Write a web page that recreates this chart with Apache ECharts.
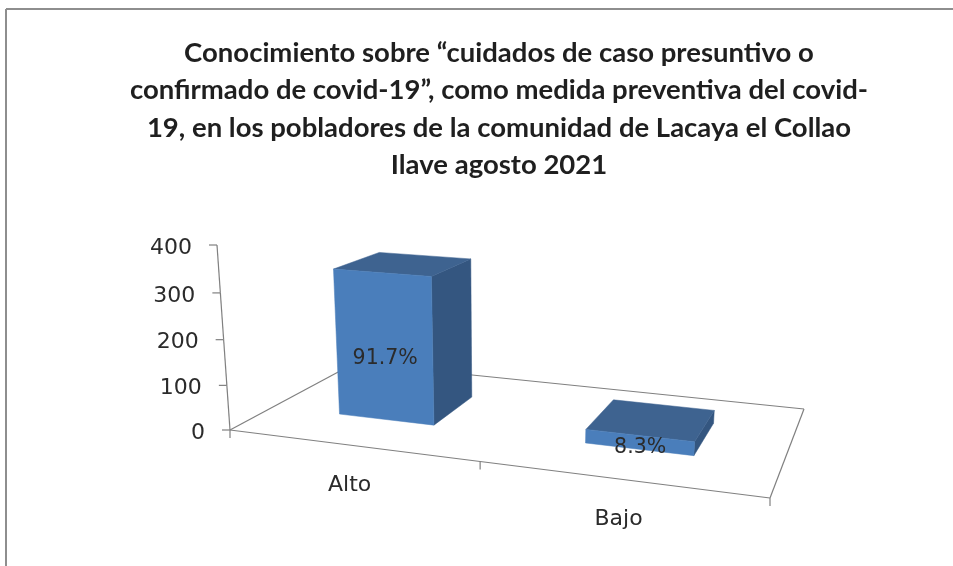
<!DOCTYPE html>
<html>
<head>
<meta charset="utf-8">
<style>html,body{margin:0;padding:0;background:#fff}#c{width:953px;height:566px}</style>
<script src="https://cdn.jsdelivr.net/npm/echarts@6/dist/echarts.min.js"></script>
</head>
<body>
<div id="c"></div>
<script>
var titleLines = [
  'Conocimiento sobre “cuidados de caso presuntivo o',
  'confirmado de covid-19”, como medida preventiva del covid-',
  '19, en los pobladores de la comunidad de Lacaya el Collao',
  'Ilave agosto 2021'
];
var categories = ['Alto', 'Bajo'];
var values = [330, 30];
var valueLabels = ['91.7%', '8.3%'];
var yTicks = [0, 100, 200, 300, 400];

// Oblique view of the plot box: floor corners (front-left, front-right, back-right,
// back-left), vanishing point of the verticals and the strength of the height term.
var Q = [[230, 430], [770, 498], [804, 409], [355, 363]];
var VP = [500, 4270];
var K = -0.04596;
var BAR_BAND = 0.4, BAR_SHIFT = -0.005, W_FRONT = 0.31, W_BACK = 0.695;

var H = (function () {
  var x0 = Q[0][0], y0 = Q[0][1], x1 = Q[1][0], y1 = Q[1][1], x2 = Q[2][0], y2 = Q[2][1], x3 = Q[3][0], y3 = Q[3][1];
  var dx1 = x1 - x2, dx2 = x3 - x2, sx = x0 - x1 + x2 - x3;
  var dy1 = y1 - y2, dy2 = y3 - y2, sy = y0 - y1 + y2 - y3;
  var den = dx1 * dy2 - dx2 * dy1;
  var g = (sx * dy2 - dx2 * sy) / den, h = (dx1 * sy - sx * dy1) / den;
  return { a: x1 - x0 + g * x1, b: x3 - x0 + h * x3, c: x0, d: y1 - y0 + g * y1, e: y3 - y0 + h * y3, f: y0, g: g, h: h };
})();
function proj(u, w, t) {
  var q = t * K, den = H.g * u + H.h * w + 1 + q;
  return [(H.a * u + H.b * w + H.c + q * VP[0]) / den, (H.d * u + H.e * w + H.f + q * VP[1]) / den];
}
// grid-relative fractions from the library's own scales
function frac(params, api, cat, val) {
  var cs = params.coordSys, p = api.coord([cat, val]);
  return [(p[0] - cs.x) / cs.width, (cs.y + cs.height - p[1]) / cs.height];
}
var AXIS = '#808080', TXT = '#2b2b2b', FONT = '"DejaVu Sans", sans-serif';
function seg(a, b, w) {
  return { type: 'line', shape: { x1: a[0], y1: a[1], x2: b[0], y2: b[1] }, style: { stroke: AXIS, lineWidth: w || 1.2, fill: null }, silent: true };
}
function poly(pts, color) {
  return { type: 'polygon', shape: { points: pts }, style: { fill: color, stroke: color, lineWidth: 0.5 }, silent: true };
}
function txt(x, y, s, align, size) {
  return { type: 'text', x: x, y: y, style: { text: s, fill: TXT, font: (size || 22) + 'px ' + FONT, align: align, verticalAlign: 'middle' }, silent: true };
}

var chart = echarts.init(document.getElementById('c'));
chart.setOption({
  animation: false,
  backgroundColor: '#ffffff',
  title: {
    text: titleLines.join('\n'),
    left: 494, top: 29, textAlign: 'center',
    textStyle: { fontFamily: 'Lato', fontWeight: 'bold', fontSize: 27.5, lineHeight: 37.5, color: '#1f1f1f' }
  },
  graphic: [
    { type: 'line', shape: { x1: 6, y1: 9, x2: 953, y2: 9 }, style: { stroke: '#8e8e8e', lineWidth: 2 } },
    { type: 'line', shape: { x1: 6, y1: 9, x2: 6, y2: 566 }, style: { stroke: '#8e8e8e', lineWidth: 2 } }
  ],
  grid: { left: 230, top: 245, width: 540, height: 185 },
  xAxis: { type: 'category', data: categories, show: false },
  yAxis: { type: 'value', min: 0, max: 400, interval: 100, show: false },
  series: [
    { // floor outline and category axis
      type: 'custom', z: 1, data: categories.map(function (c, i) { return [i, 0]; }),
      renderItem: function (params, api) {
        var i = api.value(0), kids = [], o = frac(params, api, i, 0);
        var u0 = o[0] - api.size([1, 0])[0] / params.coordSys.width / 2, u1 = u0 + api.size([1, 0])[0] / params.coordSys.width;
        if (i === 0) {
          kids.push(seg(proj(0, 0, 0), proj(0, 1, 0)));
          kids.push(seg(proj(0, 1, 0), proj(1, 1, 0)));
          kids.push(seg(proj(1, 1, 0), proj(1, 0, 0)));
          kids.push(seg(proj(0, 0, 0), proj(1, 0, 0)));
          var t0 = proj(u0, 0, 0);
          kids.push(seg(t0, [t0[0], t0[1] + 8]));
        }
        var t1 = proj(u1, 0, 0);
        kids.push(seg(t1, [t1[0], t1[1] + 8]));
        var l = proj(o[0], 0, 0);
        kids.push(txt(l[0] - 1, l[1] + 40, categories[i], 'center'));
        return { type: 'group', children: kids };
      }
    },
    { // value axis
      type: 'custom', z: 1, data: yTicks.map(function (t) { return [0, t]; }),
      renderItem: function (params, api) {
        var val = api.value(1), f = frac(params, api, 0, val), kids = [];
        var p = proj(0, 0, f[1]);
        kids.push(seg([p[0] - 8, p[1]], p));
        if (val < yTicks[yTicks.length - 1]) {
          var nf = frac(params, api, 0, val + 100);
          kids.push(seg(p, proj(0, 0, nf[1])));
        }
        kids.push(txt(p[0] - 25, p[1] + 3, String(val), 'right'));
        return { type: 'group', children: kids };
      }
    },
    { // bars
      type: 'custom', z: 2, data: values.map(function (v, i) { return [i, v]; }),
      renderItem: function (params, api) {
        var i = api.value(0), f = frac(params, api, i, api.value(1));
        var band = api.size([1, 0])[0] / params.coordSys.width;
        var c = f[0] + BAR_SHIFT, hw = band * BAR_BAND / 2, uL = c - hw, uR = c + hw, t = f[1];
        var fbl = proj(uL, W_FRONT, 0), fbr = proj(uR, W_FRONT, 0), ftl = proj(uL, W_FRONT, t), ftr = proj(uR, W_FRONT, t);
        var bbr = proj(uR, W_BACK, 0), btl = proj(uL, W_BACK, t), btr = proj(uR, W_BACK, t);
        var lab = proj(c, W_FRONT, t * 0.46);
        return { type: 'group', children: [
          poly([fbr, bbr, btr, ftr], '#345680'),
          poly([ftl, ftr, btr, btl], '#3e6390'),
          poly([fbl, fbr, ftr, ftl], '#4a7ebb'),
          txt(lab[0] + 1, lab[1] + 5, valueLabels[i], 'center', 20.5)
        ] };
      }
    }
  ]
});
</script>
</body>
</html>
